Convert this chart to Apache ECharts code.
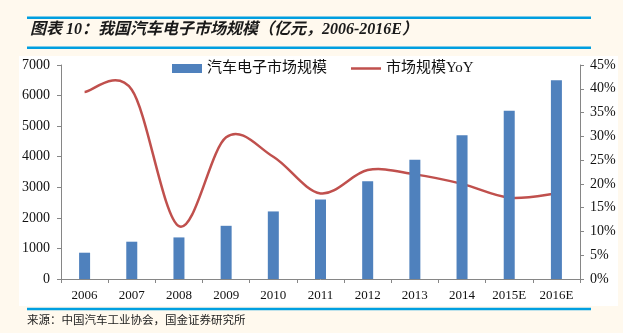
<!DOCTYPE html>
<html>
<head>
<meta charset="utf-8">
<script src="https://cdn.jsdelivr.net/npm/echarts@6/dist/echarts.min.js"></script>
<style>
html,body{margin:0;padding:0;background:#FFF9EE;}
#c{width:623px;height:333px;}
</style>
</head>
<body>
<div id="c"></div>
<script>
var categories = ['2006','2007','2008','2009','2010','2011','2012','2013','2014','2015E','2016E'];
var marketSize = [860, 1220, 1360, 1740, 2210, 2600, 3200, 3900, 4700, 5500, 6500];
var marketYoY = [39.3, 39.8, 11.1, 29.8, 25.7, 18.0, 22.9, 22.0, 20.0, 17.1, 18.0];
var leftTicks = {min: 0, max: 7000, interval: 1000};
var rightTicks = {min: 0, max: 45, interval: 5};

var serif = "'Liberation Serif','Noto Sans CJK SC',serif";
var axisColor = '#868686';
var lineColor = '#C0504D';
var barColor = '#4F81BD';

// Excel-style smoothed line (Catmull-Rom through the data points), positioned via the chart's own axes
function renderSmoothLine(params, api) {
  if (params.dataIndex !== 0) return null;
  var pts = marketYoY.map(function (v, i) { return api.coord([i, v]); });
  var n = pts.length;
  var d = 'M' + pts[0][0] + ',' + pts[0][1];
  for (var i = 0; i < n - 1; i++) {
    var p0 = pts[i - 1] || pts[i];
    var p1 = pts[i];
    var p2 = pts[i + 1];
    var p3 = pts[i + 2] || pts[i + 1];
    var c1x = p1[0] + (p2[0] - p0[0]) / 6, c1y = p1[1] + (p2[1] - p0[1]) / 6;
    var c2x = p2[0] - (p3[0] - p1[0]) / 6, c2y = p2[1] - (p3[1] - p1[1]) / 6;
    d += ' C' + c1x + ',' + c1y + ' ' + c2x + ',' + c2y + ' ' + p2[0] + ',' + p2[1];
  }
  return {type: 'path', shape: {pathData: d}, style: {fill: 'none', stroke: lineColor, lineWidth: 2.5}};
}

var chart = echarts.init(document.getElementById('c'));
chart.setOption({
  backgroundColor: '#FFF9EE',
  animation: false,
  graphic: [
    {type:'rect', shape:{x:19,y:56,width:599,height:250}, style:{fill:'#FFFFFF'}, z:-10},
    {type:'rect', shape:{x:27,y:16.5,width:564,height:2.6}, style:{fill:'#009FE0'}},
    {type:'rect', shape:{x:27,y:46.5,width:564,height:2.6}, style:{fill:'#009FE0'}},
    {type:'rect', shape:{x:27,y:307.7,width:564,height:2.6}, style:{fill:'#009FE0'}},
    {type:'text', left:30, top:22, style:{text:'图表 10：我国汽车电子市场规模（亿元，2006-2016E）', font:"italic bold 16px 'Liberation Serif','Noto Sans CJK SC',serif", fill:'#1a1a1a'}},
    {type:'text', left:27, top:314, style:{text:'来源：中国汽车工业协会，国金证券研究所', font:"11.5px 'Noto Sans CJK SC',sans-serif", fill:'#222222'}}
  ],
  legend: {
    top: 61, left: 172, padding: 0, itemGap: 24, itemWidth: 30, itemHeight: 9,
    textStyle: {fontFamily: serif, fontSize: 15, color: '#111111'},
    data: [
      {name:'汽车电子市场规模', icon:'rect', itemStyle:{color: barColor}},
      {name:'市场规模YoY', icon:'path://M0,0L0.001,0L0,0.001Z M0,3.3L30,3.3L30,5.7L0,5.7Z M0,9L0.001,9L0,8.999Z', itemStyle:{color: lineColor}}
    ]
  },
  grid: {left: 61, right: 43, top: 65, bottom: 54, containLabel: false, outerBoundsMode: 'none'},
  xAxis: {
    type: 'category', data: categories, boundaryGap: true,
    axisLine: {lineStyle: {color: axisColor, width: 1}},
    axisTick: {show: true, length: 4, lineStyle: {color: axisColor}},
    axisLabel: {fontFamily: serif, fontSize: 13, color: '#111111', margin: 10, interval: 0}
  },
  yAxis: [
    {
      type: 'value', min: leftTicks.min, max: leftTicks.max, interval: leftTicks.interval,
      axisLine: {show: true, lineStyle: {color: axisColor}},
      axisTick: {show: true, length: 4, lineStyle: {color: axisColor}},
      splitLine: {show: false},
      axisLabel: {fontFamily: serif, fontSize: 14, color: '#111111', margin: 11, formatter: function (v) { return String(v); }}
    },
    {
      type: 'value', min: rightTicks.min, max: rightTicks.max, interval: rightTicks.interval, position: 'right',
      axisLine: {show: true, lineStyle: {color: axisColor}},
      axisTick: {show: true, length: 4, lineStyle: {color: axisColor}},
      splitLine: {show: false},
      axisLabel: {fontFamily: serif, fontSize: 14, color: '#111111', margin: 10, formatter: '{value}%'}
    }
  ],
  series: [
    {name:'汽车电子市场规模', type:'bar', data: marketSize, barWidth: 11, itemStyle:{color: barColor}},
    {name:'市场规模YoY', type:'custom', coordinateSystem:'cartesian2d', yAxisIndex: 1,
     data: marketYoY.map(function (v, i) { return [i, v]; }), encode: {x: 0, y: 1},
     renderItem: renderSmoothLine, itemStyle:{color: lineColor}, silent: true}
  ]
});
</script>
</body>
</html>
